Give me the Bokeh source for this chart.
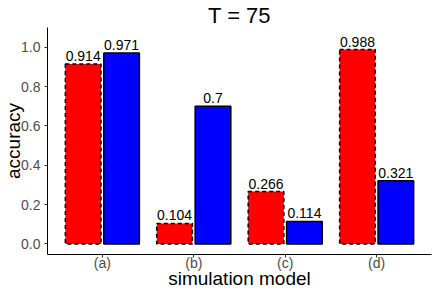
from bokeh.plotting import figure
from bokeh.models import ColumnDataSource, FactorRange, Range1d, FixedTicker, NumeralTickFormatter
from bokeh.transform import dodge
from bokeh.embed import file_html
from bokeh.resources import INLINE

models = ["(a)", "(b)", "(c)", "(d)"]
red_vals = [0.914, 0.104, 0.266, 0.988]
blue_vals = [0.971, 0.700, 0.114, 0.321]
red_labels = ["0.914", "0.104", "0.266", "0.988"]
blue_labels = ["0.971", "0.7", "0.114", "0.321"]
y_ticks = [0.0, 0.2, 0.4, 0.6, 0.8, 1.0]

FONT = "Liberation Sans"

src = ColumnDataSource(dict(m=models, r=red_vals, b=blue_vals, rl=red_labels, bl=blue_labels))

p = figure(x_range=FactorRange(factors=models, range_padding=0.1, range_padding_units="absolute"),
           y_range=Range1d(-0.054, 1.10),
           width=436, height=291, output_backend="svg", toolbar_location=None,
           min_border_left=46, min_border_right=5, min_border_top=27, min_border_bottom=36,
           title="T = 75")
p.title.align = "center"
p.title.text_font = FONT
p.title.text_font_size = "22px"
p.title.text_font_style = "normal"
p.title.text_color = "black"
p.title.standoff = 0
p.title.offset = 0

p.vbar(x=dodge("m", -0.21, range=p.x_range), top="r", bottom=0, width=0.39, source=src,
       fill_color="#FF0000", line_color="black", line_width=1.5, line_dash="4 3")
p.vbar(x=dodge("m", 0.21, range=p.x_range), top="b", bottom=0, width=0.39, source=src,
       fill_color="#0000FF", line_color="black", line_width=1.5)

p.text(x=dodge("m", -0.21, range=p.x_range), y="r", text="rl", source=src, text_align="center",
       text_baseline="bottom", y_offset=-3, text_font_size="14px", text_color="black",
       text_font={"value": FONT})
p.text(x=dodge("m", 0.21, range=p.x_range), y="b", text="bl", source=src, text_align="center",
       text_baseline="bottom", y_offset=-3, text_font_size="14px", text_color="black",
       text_font={"value": FONT})

p.xgrid.visible = False
p.ygrid.visible = False
p.outline_line_color = None

p.yaxis.ticker = FixedTicker(ticks=y_ticks)
p.yaxis.formatter = NumeralTickFormatter(format="0.0")
p.yaxis.minor_tick_line_color = None
p.xaxis.axis_label = "simulation model"
p.yaxis.axis_label = "accuracy"
for ax in (p.xaxis, p.yaxis):
    ax.axis_line_color = "black"
    ax.axis_line_width = 1
    ax.major_tick_line_color = "#333333"
    ax.major_tick_in = 0
    ax.major_tick_out = 3
    ax.major_label_text_font = FONT
    ax.major_label_text_font_size = "14px"
    ax.major_label_text_color = "#4D4D4D"
    ax.axis_label_text_font = FONT
    ax.axis_label_text_font_size = "19px"
    ax.axis_label_text_font_style = "normal"
    ax.axis_label_text_color = "black"
p.xaxis.major_label_standoff = -3
p.xaxis.axis_label_standoff = -6
p.yaxis.major_label_standoff = 4
p.yaxis.axis_label_standoff = -6

open("out.html", "w").write(file_html(p, INLINE))
